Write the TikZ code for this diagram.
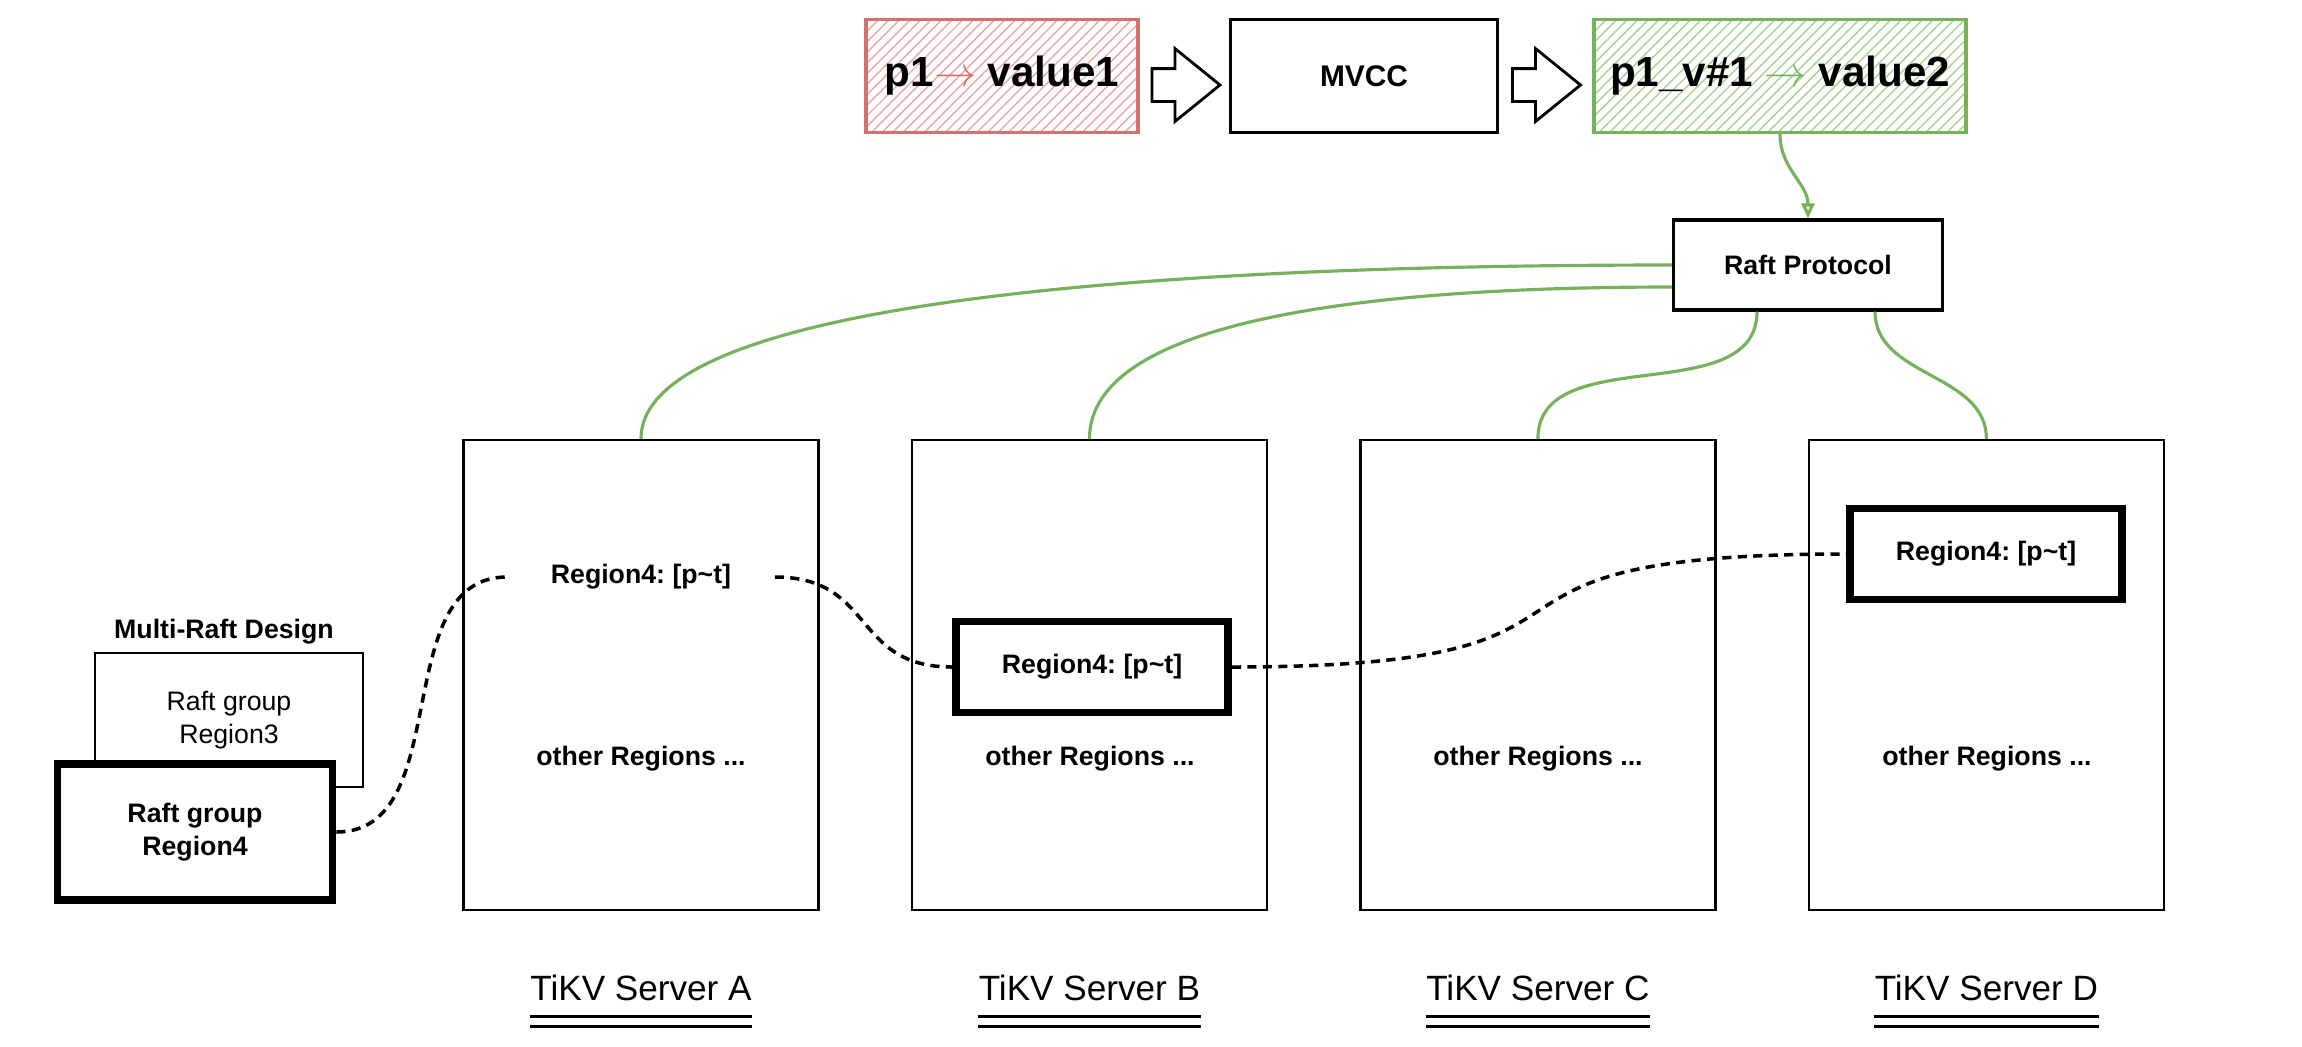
\documentclass[tikz,border=0pt]{standalone}
\usepackage{fontspec}
\setmainfont{Liberation Sans}
\usepackage{tikz}
\usetikzlibrary{arrows.meta,positioning,patterns,shapes.arrows,calc}
\definecolor{raftgreen}{RGB}{118,178,92}
\definecolor{hatchgreen}{RGB}{168,212,146}
\definecolor{keyred}{RGB}{214,112,112}
\definecolor{hatchred}{RGB}{238,168,168}
\frenchspacing

\begin{document}
\begin{tikzpicture}[
  x=0.1mm, y=-0.1mm,
  node distance=9.1mm,
  kvbox/.style={draw, line width=0.9pt, minimum width=27.2mm, minimum height=11.3mm, font=\fontsize{12}{14}\selectfont\bfseries},
  blockarr/.style={single arrow, draw, line width=0.8pt, fill=white, inner xsep=0pt, inner ysep=1.5mm, minimum height=6.8mm, single arrow head extend=2mm, single arrow tip angle=78},
  srv/.style={draw, line width=0.7pt, minimum width=35.5mm, minimum height=47mm},
  small/.style={font=\fontsize{7.6}{9.5}\selectfont\bfseries},
  hotreg/.style={small, draw, line width=2.2pt, fill=white, minimum width=27.2mm, minimum height=9.1mm},
  lbl/.style={inner sep=0pt, font=\fontsize{10}{12}\selectfont},
  dbl/.style={double, line width=0.8pt, double distance=2pt},
  raftln/.style={raftgreen, line width=0.9pt},
  rlink/.style={line width=1pt, dash pattern=on 2.6pt off 1.8pt}
]
\path[use as bounding box, fill=white] (0,0) rectangle (2302,1046);

% write path: key -> MVCC -> versioned key
\node[kvbox, draw=keyred, pattern=north east lines, pattern color=hatchred] (val1) at (1002,76) {p1\textcolor{keyred}{$\rightarrow$} value1};
\node[blockarr, right=1.1mm of val1, yshift=-0.9mm] (stepA) {};
\node[kvbox, font=\fontsize{8.5}{10}\selectfont\bfseries, minimum width=26.7mm] (mvcc) at (1364,76) {MVCC};
\node[blockarr, right=1.2mm of mvcc, yshift=-0.9mm] (stepB) {};
\node[kvbox, draw=raftgreen, pattern=north east lines, pattern color=hatchgreen, minimum width=37.2mm] (val2) at (1780,76) {p1\_v\#1 \textcolor{raftgreen}{$\rightarrow$} value2};

\node[small, draw, line width=0.9pt, minimum width=26.9mm, minimum height=9mm] (raft) at (1808,265) {Raft Protocol};

% the four stores
\node[srv] (srvA) at (641,675) {};
\node[srv, right=of srvA] (srvB) {};
\node[srv, right=of srvB] (srvC) {};
\node[srv, right=of srvC] (srvD) {};

\node[small, inner xsep=4.3mm] (regA) at (641,577) {Region4: [p\textasciitilde t]};
\node[hotreg] (regB) at (1092,667) {Region4: [p\textasciitilde t]};
\node[hotreg] (regD) at (1986,554) {Region4: [p\textasciitilde t]};

\node[small] (othA) at (641,759) {other Regions ...};
\node[small] (othB) at (1090,759) {other Regions ...};
\node[small] (othC) at (1538,759) {other Regions ...};
\node[small] (othD) at (1987,759) {other Regions ...};

\node[lbl, below=6.3mm of srvA] (lblA) {TiKV Server A};
\node[lbl, below=6.3mm of srvB] (lblB) {TiKV Server B};
\node[lbl, below=6.3mm of srvC] (lblC) {TiKV Server C};
\node[lbl, below=6.3mm of srvD] (lblD) {TiKV Server D};
\draw[dbl] ([yshift=-2.1mm]lblA.base west) -- ([yshift=-2.1mm]lblA.base east);
\draw[dbl] ([yshift=-2.1mm]lblB.base west) -- ([yshift=-2.1mm]lblB.base east);
\draw[dbl] ([yshift=-2.1mm]lblC.base west) -- ([yshift=-2.1mm]lblC.base east);
\draw[dbl] ([yshift=-2.1mm]lblD.base west) -- ([yshift=-2.1mm]lblD.base east);

% multi-raft legend
\node[small] (legend) at (224,632) {Multi-Raft Design};
\node[draw, line width=0.7pt, minimum width=26.8mm, minimum height=13.4mm, align=center, font=\fontsize{7.6}{9.5}\selectfont] (grp3) at (229,720) {Raft group\\Region3};
\node[hotreg, minimum width=27.5mm, minimum height=13.6mm, align=center] (grp4) at (195,832) {Raft group\\Region4};

% replication links
\draw[raftln, -{Triangle[open, length=1.5mm, width=1.3mm]}] (val2.south) to[out=-90, in=90] (raft.north);
\draw[raftln] (raft.west) .. controls +(-500,0) and +(0,-140) .. (srvA.north);
\draw[raftln] ([yshift=-2.2mm]raft.west) .. controls +(-300,0) and +(0,-120) .. (srvB.north);
\draw[raftln] ([xshift=-5.1mm]raft.south) to[out=-90, in=90] (srvC.north);
\draw[raftln] ([xshift=6.7mm]raft.south) to[out=-90, in=90] (srvD.north);

\draw[rlink] (grp4.east) to[out=0, in=180] (regA.west);
\draw[rlink] (regA.east) to[out=0, in=180, looseness=1.3] (regB.west);
\draw[rlink] (regB.east) to[out=0, in=180, looseness=1.8] (regD.west);
\end{tikzpicture}
\end{document}
